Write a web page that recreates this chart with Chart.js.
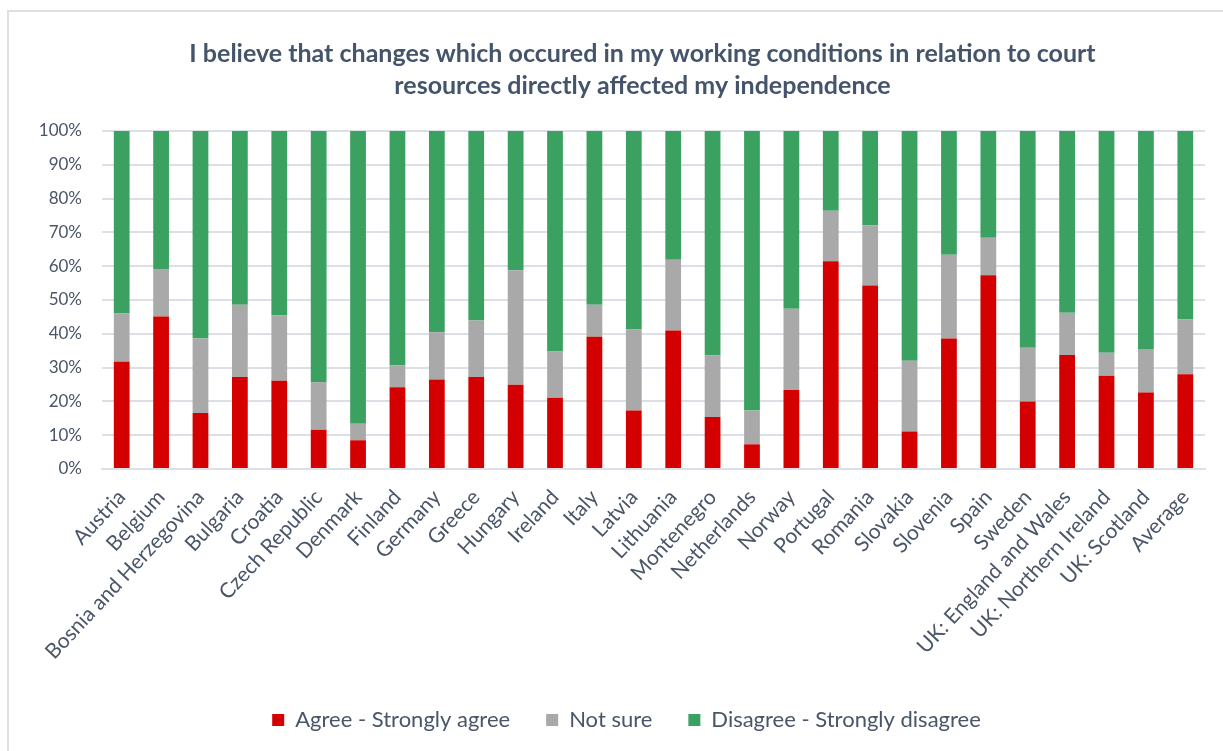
<!DOCTYPE html>
<html>
<head>
<meta charset="utf-8">
<script src="https://cdn.jsdelivr.net/npm/chart.js@4.4.1/dist/chart.umd.min.js"></script>
<style>
  html, body { margin:0; padding:0; background:#fff; }
  .wrap { position:relative; width:1223px; height:751px; overflow:hidden; }
  .frame { position:absolute; left:7px; top:10px; width:1300px; height:800px;
           border-left:2px solid #dcdfe5; border-top:2px solid #dcdfe5; }
  canvas { position:absolute; left:0; top:0; }
</style>
</head>
<body>
<div class="wrap">
  <div class="frame"></div>
  <canvas id="chart" width="1223" height="751"></canvas>
</div>
<script>
// Data (percent of respondents)
const categories = ['Austria','Belgium','Bosnia and Herzegovina','Bulgaria','Croatia','Czech Republic',
  'Denmark','Finland','Germany','Greece','Hungary','Ireland','Italy','Latvia','Lithuania','Montenegro',
  'Netherlands','Norway','Portugal','Romania','Slovakia','Slovenia','Spain','Sweden',
  'UK: England and Wales','UK: Northern Ireland','UK: Scotland','Average'];

const agree    = [31.7,45.1,16.6,27.2,26.1,11.6, 8.5,24.2,26.5,27.2,24.9,21.1,39.1,17.3,41.0,15.4, 7.3,23.4,61.5,54.3,11.1,38.6,57.3,20.0,33.7,27.6,22.6,28.0];
const notSure  = [14.4,14.1,22.0,21.4,19.4,14.1, 4.9, 6.5,14.0,16.7,33.9,13.7, 9.5,24.0,20.9,18.2,10.0,24.0,14.9,17.8,20.9,24.8,11.1,15.9,12.5, 6.8,12.9,16.3];
const disagree = [53.9,40.8,61.4,51.4,54.5,74.3,86.6,69.3,59.5,56.1,41.2,65.2,51.4,58.7,38.1,66.4,82.7,52.6,23.6,27.9,68.0,36.6,31.6,64.1,53.8,65.6,64.5,55.7];

const yTicks = [0,10,20,30,40,50,60,70,80,90,100];
const seriesNames = ['Agree - Strongly agree','Not sure','Disagree - Strongly disagree'];
const colors = ['#d40000','#a9a9a9','#3ba160'];

const titleLines = ['I believe that changes which occured in my working conditions in relation to court',
  'resources directly affected my independence'];

const textColor = '#4a5568';
const FONT = 'Lato, "Open Sans", sans-serif';

const ds = (label, data, color) => ({
  label, data,
  backgroundColor: color,
  borderWidth: 0,
  barPercentage: 0.4,
  categoryPercentage: 1,
});

// title and legend sit a bit right of the canvas centre in the original
const nudge = {
  id: 'nudge',
  afterLayout(chart){
    const t = chart.titleBlock, l = chart.legend;
    if(t){ t.left += 40; t.right += 40; }
    if(l){ l.left += 24; l.right += 24; }
  }
};

new Chart(document.getElementById('chart').getContext('2d'), {
  type: 'bar',
  data: {
    labels: categories,
    datasets: [
      ds(seriesNames[0], agree, colors[0]),
      ds(seriesNames[1], notSure, colors[1]),
      ds(seriesNames[2], disagree, colors[2]),
    ]
  },
  plugins: [nudge],
  options: {
    responsive: false,
    animation: false,
    layout: { padding: { top: 17, left: 0, right: 18, bottom: 10 } },
    plugins: {
      title: {
        display: true,
        text: titleLines,
        color: '#44546a',
        font: { family: FONT, size: 25, weight: 'bold', lineHeight: 1.28 },
        padding: { top: 21, bottom: 29 }
      },
      legend: {
        position: 'bottom',
        labels: {
          color: textColor,
          font: { family: FONT, size: 22 },
          boxWidth: 12, boxHeight: 12,
          padding: 36
        }
      },
      tooltip: { enabled: false }
    },
    scales: {
      x: {
        stacked: true,
        grid: { display: false },
        border: { display: true, color: '#dcdfe5', width: 2 },
        ticks: {
          color: textColor,
          font: { family: FONT, size: 21 },
          maxRotation: 47, minRotation: 47,
          autoSkip: false,
          padding: 8
        },
        afterFit: s => { s.height = 204; }
      },
      y: {
        stacked: true,
        min: 0, max: 100,
        border: { display: false },
        grid: { color: '#dcdfe5', lineWidth: 2, drawTicks: false },
        afterBuildTicks: s => { s.ticks = yTicks.map(v => ({ value: v })); },
        ticks: {
          color: textColor,
          font: { family: FONT, size: 17 },
          padding: 20,
          callback: v => v + '%'
        },
        afterFit: s => { s.width = 102; }
      }
    }
  }
});
</script>
</body>
</html>
